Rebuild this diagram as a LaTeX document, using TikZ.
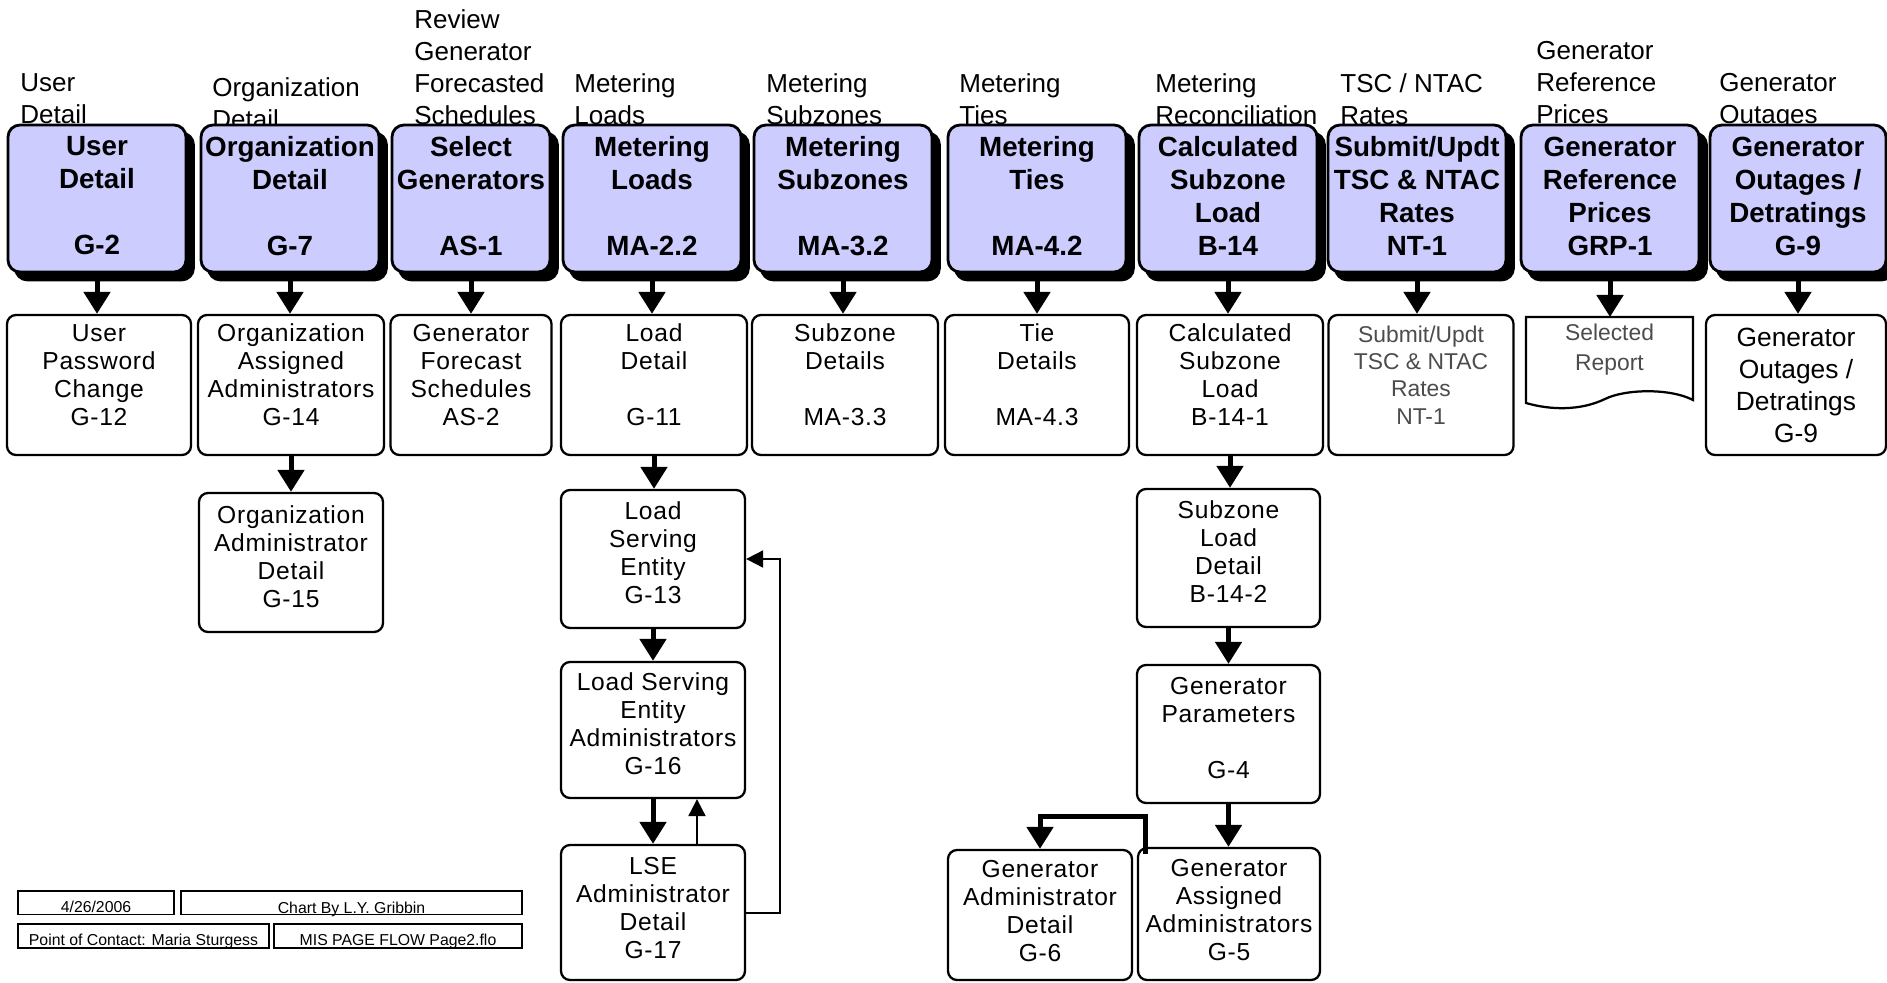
\documentclass[tikz,border=0pt]{standalone}
\usepackage{fontspec}
\setmainfont{Liberation Sans}
\newfontfamily\boxfont[LetterSpace=3]{Liberation Sans}
\usetikzlibrary{arrows.meta,shadows}
\definecolor{pagefill}{RGB}{204,204,255}
\begin{document}
\begin{tikzpicture}[x=0.2mm,y=-0.2mm,
  headlabel/.style={anchor=north west,inner sep=0pt,align=left,font=\fontsize{14.8}{18.2}\selectfont},
  pagebox/.style={draw,line width=1.6pt,rounded corners=2.4mm,fill=pagefill,
    copy shadow={shadow xshift=1.5mm,shadow yshift=-1.6mm,fill=black,draw=black},
    minimum width=35.6mm,minimum height=29.4mm,inner sep=0pt,align=center,
    font=\bfseries\fontsize{15.8}{18.8}\selectfont,
    execute at end node={\rule[-3pt]{0pt}{3pt}}},
  subbox/.style={draw,line width=1.3pt,rounded corners=1.8mm,fill=white,
    minimum width=36.8mm,minimum height=28mm,inner sep=0pt,align=center,
    font=\boxfont\fontsize{14}{16}\selectfont,
    execute at end node={\rule[-#1]{0pt}{#1}}},
  subbox/.default=11.5pt,
  footbox/.style={draw,line width=0.3mm,inner sep=0pt,minimum height=4.7mm,
    text height=11pt,text depth=0pt,font=\fontsize{9}{10}\selectfont},
  flowarrow/.style={line width=1mm,-{Triangle[width=5.2mm,length=4.4mm]}},
  backarrow/.style={line width=0.4mm,-{Triangle[width=3.4mm,length=3.4mm]}}]
\useasboundingbox (0,0) rectangle (1887,983);

\node[headlabel] (hdUser) at (20,73) {User\\Detail};
\node[headlabel] (hdOrg) at (212,77) {Organization\\Detail};
\node[headlabel] (hdReview) at (414,9) {Review\\Generator\\Forecasted\\Schedules};
\node[headlabel] (hdLoads) at (574,73) {Metering\\Loads};
\node[headlabel] (hdSubz) at (766,73) {Metering\\Subzones};
\node[headlabel] (hdTies) at (959,73) {Metering\\Ties};
\node[headlabel] (hdRecon) at (1155,73) {Metering\\Reconciliation};
\node[headlabel] (hdRates) at (1340,73) {TSC / NTAC\\Rates};
\node[headlabel] (hdPrices) at (1536,41) {Generator\\Reference\\Prices};
\node[headlabel] (hdOutages) at (1719,73) {Generator\\Outages};

\node[pagebox] (userdet) at (97,198.5) {User\\Detail\\~\\G-2};
\node[pagebox] (orgdet) at (290,198.5) {Organization\\Detail\\~\\G-7};
\node[pagebox,minimum width=31.6mm] (selgen) at (471,198.5) {Select\\Generators\\~\\AS-1};
\node[pagebox] (meterld) at (652,198.5) {Metering\\Loads\\~\\MA-2.2};
\node[pagebox] (metersz) at (843,198.5) {Metering\\Subzones\\~\\MA-3.2};
\node[pagebox] (meterties) at (1037,198.5) {Metering\\Ties\\~\\MA-4.2};
\node[pagebox] (calcsz) at (1228,198.5) {Calculated\\Subzone\\Load\\B-14};
\node[pagebox] (submit) at (1417,198.5) {Submit/Updt\\TSC \& NTAC\\Rates\\NT-1};
\node[pagebox] (genref) at (1610,198.5) {Generator\\Reference\\Prices\\GRP-1};
\node[pagebox,minimum width=35.2mm] (genout) at (1798,198.5) {Generator\\Outages /\\Detratings\\G-9};

\node[subbox] (pwd) at (99,385) {User\\Password\\Change\\G-12};
\node[subbox,minimum width=37.2mm] (orgassign) at (291,385) {Organization\\Assigned\\Administrators\\G-14};
\node[subbox,minimum width=32.2mm] (genfcst) at (471,385) {Generator\\Forecast\\Schedules\\AS-2};
\node[subbox,minimum width=37.2mm] (loaddet) at (654,385) {Load\\Detail\\~\\G-11};
\node[subbox,minimum width=37.2mm] (subzdet) at (845,385) {Subzone\\Details\\~\\MA-3.3};
\node[subbox] (tiedet) at (1037,385) {Tie\\Details\\~\\MA-4.3};
\node[subbox,minimum width=37.2mm] (calcszld) at (1230,385) {Calculated\\Subzone\\Load\\B-14-1};
\node[subbox,minimum width=37mm,text=black!70,font=\fontsize{13}{15.5}\selectfont] (submitrates) at (1421,385) {Submit/Updt\\TSC \& NTAC\\Rates\\NT-1};
\node[subbox=0pt,minimum width=36mm,font=\fontsize{15}{18.2}\selectfont] (genoutdet) at (1796,385) {Generator\\Outages /\\Detratings\\G-9};

\draw[line width=0.45mm] (1526,317) -- (1693,317) -- (1693,400) .. controls (1670,388) and (1625,389) .. (1605,399) .. controls (1580,411) and (1550,410) .. (1526,403) -- cycle;
\node[anchor=north,inner xsep=0pt,inner ysep=1.4mm,align=center,text=black!70,font=\fontsize{13}{17}\selectfont] (selrep) at (1609.5,317) {Selected\\Report};

\node[subbox=7pt,minimum height=27.8mm] (orgadmin) at (291,562.5) {Organization\\Administrator\\Detail\\G-15};
\node[subbox=7pt,minimum height=27.6mm] (lse) at (653,559) {Load\\Serving\\Entity\\G-13};
\node[subbox=7pt,minimum height=27.2mm] (lseadmins) at (653,730) {Load Serving\\Entity\\Administrators\\G-16};
\node[subbox=5pt,minimum height=27mm] (lsedet) at (653,912.5) {LSE\\Administrator\\Detail\\G-17};
\node[subbox=7pt,minimum width=36.6mm,minimum height=27.6mm] (szload) at (1228.5,558) {Subzone\\Load\\Detail\\B-14-2};
\node[subbox=7pt,minimum width=36.6mm,minimum height=27.6mm] (genparam) at (1228.5,734) {Generator\\Parameters\\~\\G-4};
\node[subbox=5pt,minimum width=36.4mm,minimum height=26.4mm] (genassign) at (1229,914) {Generator\\Assigned\\Administrators\\G-5};
\node[subbox=5pt,minimum height=26mm] (genadmin) at (1040,915) {Generator\\Administrator\\Detail\\G-6};

\draw[flowarrow] (userdet.south) -- (userdet.south |- pwd.north);
\draw[flowarrow] (orgdet.south) -- (orgdet.south |- orgassign.north);
\draw[flowarrow] (selgen.south) -- (selgen.south |- genfcst.north);
\draw[flowarrow] (meterld.south) -- (meterld.south |- loaddet.north);
\draw[flowarrow] (metersz.south) -- (metersz.south |- subzdet.north);
\draw[flowarrow] (meterties.south) -- (meterties.south |- tiedet.north);
\draw[flowarrow] (calcsz.south) -- (calcsz.south |- calcszld.north);
\draw[flowarrow] (submit.south) -- (submit.south |- submitrates.north);
\draw[flowarrow] (genref.south) -- (genref.south |- selrep.north);
\draw[flowarrow] (genout.south) -- (genout.south |- genoutdet.north);

\draw[flowarrow] (orgassign.south) -- (orgassign.south |- orgadmin.north);
\draw[flowarrow] (loaddet.south) -- (loaddet.south |- lse.north);
\draw[flowarrow] (lse.south) -- (lseadmins.north);
\draw[flowarrow] (lseadmins.south) -- (lsedet.north);
\draw[backarrow] ([shift={(44,0)}]lsedet.north) -- ([shift={(44,0)}]lseadmins.south);
\draw[backarrow] (lsedet.east) -- ++(34,0) |- (lse.east);

\draw[flowarrow] (calcszld.south) -- (calcszld.south |- szload.north);
\draw[flowarrow] (szload.south) -- (genparam.north);
\draw[flowarrow] (genparam.south) -- (genparam.south |- genassign.north);
\draw[flowarrow] ([shift={(9,7)}]genassign.north west) -- ++(0,-37) -| (genadmin.north);

\node[footbox,minimum width=31.2mm] (date) at (96,902.5) {4/26/2006};
\node[footbox,minimum width=68.2mm,text height=12.5pt] (chartby) at (351.5,902.5) {Chart By L.Y. Gribbin};
\node[footbox,minimum width=50.2mm,minimum height=4.8mm] (contact) at (143.5,936) {Point of Contact: Maria Sturgess};
\node[footbox,minimum width=49.6mm,minimum height=4.8mm] (flofile) at (398,936) {MIS PAGE FLOW Page2.flo};
\end{tikzpicture}
\end{document}
